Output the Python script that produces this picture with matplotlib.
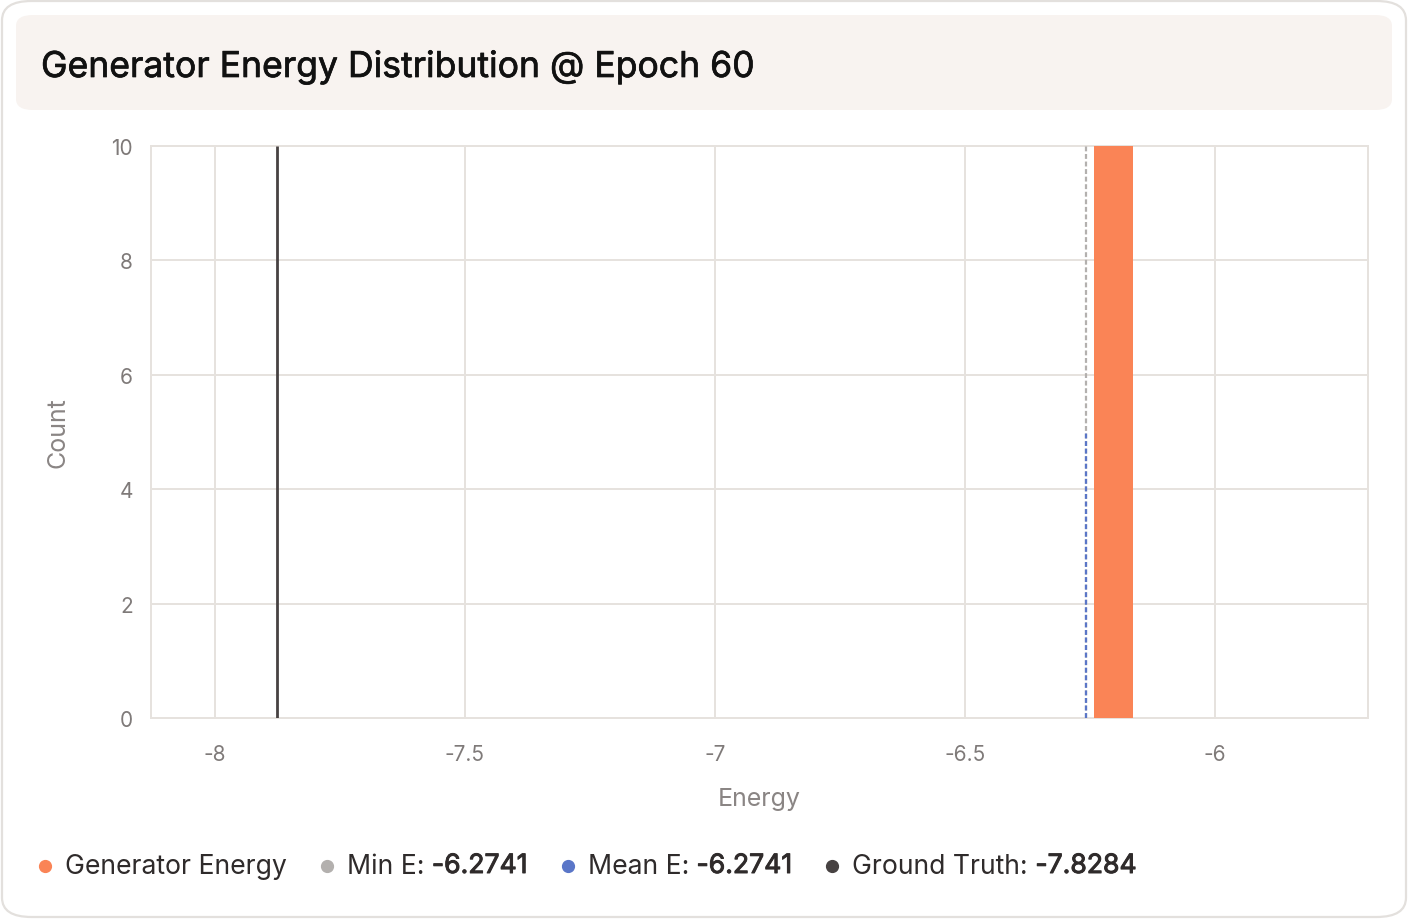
import matplotlib.pyplot as plt
import matplotlib.patheffects as pe
from matplotlib.patches import FancyBboxPatch

# data
bin_left = [-6.242]
bin_width = [0.078]
bin_count = [10]
min_e_pos = -6.258
mean_e_pos = -6.258
gt_pos = -7.876
mean_top = 5
min_e_label = "-6.2741"
mean_e_label = "-6.2741"
gt_label = "-7.8284"
x_ticks = [-8, -7.5, -7, -6.5, -6]
x_tick_labels = ["-8", "-7.5", "-7", "-6.5", "-6"]
y_ticks = [0, 2, 4, 6, 8, 10]

plt.rcParams['font.family'] = ['Inter', 'DejaVu Sans']

W, H = 1408, 920
fig = plt.figure(figsize=(W / 100, H / 100), dpi=100)
fig.patch.set_facecolor('white')


def fx(px):
    return px / W


def fy(py):
    return 1 - py / H


# card border and header
card = FancyBboxPatch((fx(2), fy(918)), fx(1404), 916 / H,
                      boxstyle="round,pad=0,rounding_size=0.021",
                      transform=fig.transFigure, facecolor='white',
                      edgecolor='#e3e0dd', linewidth=1.6, zorder=-3)
fig.patches.append(card)
header = FancyBboxPatch((fx(16), fy(111)), fx(1376), 95 / H,
                        boxstyle="round,pad=0,rounding_size=0.012",
                        transform=fig.transFigure, facecolor='#f8f3f0',
                        edgecolor='none', zorder=-2)
fig.patches.append(header)
medium = [pe.withStroke(linewidth=0.5, foreground='#111111')]
fig.text(fx(41), fy(68), "Generator Energy Distribution @ Epoch 60",
         fontsize=25.6, color='#111111', va='center', ha='left',
         path_effects=medium)

ax = fig.add_axes([fx(151), fy(719), fx(1368 - 151), (719 - 147) / H])
ax.set_zorder(2)
ax.set_facecolor('white')

ax.bar(bin_left, bin_count, width=bin_width, align='edge',
       color='#fa8456', edgecolor='none', zorder=3)
ax.vlines(min_e_pos, 0, 10, colors='#b3b0ae', linestyles=(0, (2.2, 1.2)),
          linewidth=1.6, zorder=4)
ax.vlines(mean_e_pos, 0, mean_top, colors='#5a76c8', linestyles=(0, (2.2, 1.2)),
          linewidth=1.6, zorder=5)
ax.vlines(gt_pos, 0, 10, colors='#474242', linewidth=2, zorder=4)

ax.set_xlim(-8.128, -5.694)
ax.set_ylim(0, 10)
ax.set_xticks(x_ticks)
ax.set_xticklabels(x_tick_labels)
ax.set_yticks(y_ticks)
ax.grid(True, color='#e6e2de', linewidth=1.4, zorder=0)
ax.set_axisbelow(True)
for s in ax.spines.values():
    s.set_color('#e6e2de')
    s.set_linewidth(1.4)
ax.tick_params(length=0, labelsize=15, colors='#7f7a79', pad=13)
ax.tick_params(axis='x', pad=19)
ax.set_xlabel("Energy", fontsize=18, color='#8a8584', labelpad=16)
ax.set_ylabel("Count", fontsize=18, color='#8a8584', labelpad=30)

# legend laid out by hand: dot, label, medium-weight value
items = [
    ('#fa8456', "Generator Energy", ""),
    ('#b3b0ae', "Min E: ", min_e_label),
    ('#5a76c8', "Mean E: ", mean_e_label),
    ('#474242', "Ground Truth: ", gt_label),
]
fig.canvas.draw()
renderer = fig.canvas.get_renderer()
x = 45
ly = fy(867)
for color, lab, val in items:
    fig.add_artist(plt.Line2D([fx(x)], [ly], marker='o', markersize=8.5,
                              color=color, transform=fig.transFigure))
    tx = x + 20
    t = fig.text(fx(tx), ly, lab, fontsize=19.15, color='#2f2b2b',
                 va='center', ha='left')
    tx += t.get_window_extent(renderer).width
    if val:
        t2 = fig.text(fx(tx), ly, val, fontsize=19.15, color='#2f2b2b',
                      va='center', ha='left',
                      path_effects=[pe.withStroke(linewidth=0.7,
                                                  foreground='#2f2b2b')])
        tx += t2.get_window_extent(renderer).width
    x = tx + 40

fig.savefig('out.png', dpi=100, facecolor='white')
